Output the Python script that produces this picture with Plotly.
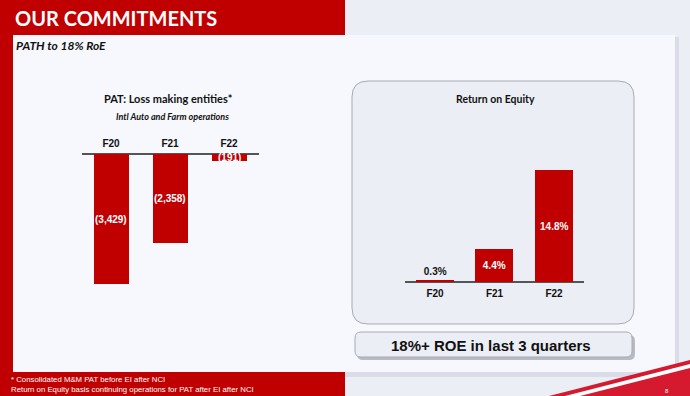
import plotly.graph_objects as go

W, H = 690, 396

# ---- data ----
pat_categories = ["F20", "F21", "F22"]
pat_values = [-3429, -2358, -191]          # Rs crore, loss making entities
roe_categories = ["F20", "F21", "F22"]
roe_values = [0.3, 4.4, 14.8]              # Return on Equity, %

RED = "#C00000"
BG = "#ECEEF6"
PANEL = "#F6F8FE"
FONT = "Liberation Sans"
TFONT = "Lato"


def px(x):
    return x / W


def py(y):
    return 1 - y / H


def rrect(x0, y0, x1, y1, r):
    # rounded rectangle path in paper units from pixel coords
    pts = [
        f"M {px(x0 + r)} {py(y0)}",
        f"L {px(x1 - r)} {py(y0)}",
        f"Q {px(x1)} {py(y0)} {px(x1)} {py(y0 + r)}",
        f"L {px(x1)} {py(y1 - r)}",
        f"Q {px(x1)} {py(y1)} {px(x1 - r)} {py(y1)}",
        f"L {px(x0 + r)} {py(y1)}",
        f"Q {px(x0)} {py(y1)} {px(x0)} {py(y1 - r)}",
        f"L {px(x0)} {py(y0 + r)}",
        f"Q {px(x0)} {py(y0)} {px(x0 + r)} {py(y0)}",
        "Z",
    ]
    return " ".join(pts)


def poly(points):
    s = "M " + " L ".join(f"{px(x)} {py(y)}" for x, y in points) + " Z"
    return s


fig = go.Figure()

# Left chart: PAT of loss making entities
fig.add_trace(go.Bar(
    x=pat_categories, y=pat_values, marker=dict(color=RED, line=dict(width=0)),
    width=0.58, xaxis="x", yaxis="y", hoverinfo="skip", showlegend=False,
))
# Right chart: RoE
roe_text = [f"{v:.1f}%" for v in roe_values]
fig.add_trace(go.Bar(
    x=roe_categories, y=roe_values, marker=dict(color=RED, line=dict(width=0)),
    width=0.64, xaxis="x2", yaxis="y2", hoverinfo="skip", showlegend=False,
    text=roe_text, textposition=["outside", "inside", "inside"],
    insidetextanchor="middle", cliponaxis=False,
    textfont=dict(family=FONT, size=10, weight="bold", color=["#111111", "white", "white"]),
    outsidetextfont=dict(family=FONT, size=10, weight="bold", color="#111111"),
))

shapes = []
# header red bar, left strip
shapes.append(dict(type="rect", xref="paper", yref="paper", x0=0, x1=px(345), y0=py(35), y1=py(0),
                   fillcolor=RED, line=dict(width=0), layer="below"))
shapes.append(dict(type="rect", xref="paper", yref="paper", x0=0, x1=px(13), y0=py(396), y1=py(0),
                   fillcolor=RED, line=dict(width=0), layer="below"))
# panel shadow + panel
shapes.append(dict(type="rect", xref="paper", yref="paper", x0=px(16), x1=px(679), y0=py(377), y1=py(37),
                   fillcolor="#DADDE8", line=dict(width=0), layer="below"))
shapes.append(dict(type="rect", xref="paper", yref="paper", x0=px(13), x1=px(675), y0=py(372), y1=py(35),
                   fillcolor=PANEL, line=dict(width=0), layer="below"))
# bottom red band
shapes.append(dict(type="rect", xref="paper", yref="paper", x0=0, x1=px(345), y0=py(396), y1=py(372),
                   fillcolor=RED, line=dict(width=0), layer="below"))
# bottom right decoration
shapes.append(dict(type="path", xref="paper", yref="paper", path=poly([(549, 396), (690, 360), (690, 396)]),
                   fillcolor="#D5192F", line=dict(width=0), layer="below"))
shapes.append(dict(type="path", xref="paper", yref="paper",
                   path=poly([(565, 396), (690, 364), (690, 368), (580, 396)]),
                   fillcolor="white", line=dict(width=0), layer="below"))
# RoE rounded box
shapes.append(dict(type="path", xref="paper", yref="paper", path=rrect(352, 81, 634, 324, 16),
                   fillcolor=BG, line=dict(color="#A9ABB3", width=1), layer="below"))
# callout box shadow and box
shapes.append(dict(type="path", xref="paper", yref="paper", path=rrect(357, 335, 635, 360, 6),
                   fillcolor="#B9BBC3", line=dict(width=0), layer="below"))
shapes.append(dict(type="path", xref="paper", yref="paper", path=rrect(355, 332, 632, 357, 6),
                   fillcolor=BG, line=dict(color="#A9ABB3", width=1), layer="below"))

annotations = []


def txt(x, y, s, size, color="#111111", family=FONT, weight="bold", italic=False, xanchor="center"):
    annotations.append(dict(
        xref="paper", yref="paper", x=px(x), y=py(y), text=s, showarrow=False,
        xanchor=xanchor, yanchor="middle",
        font=dict(family=family, size=size, color=color, weight=weight,
                  style="italic" if italic else "normal"),
    ))


txt(13, 18, "OUR COMMITMENTS", 20, color="white", family=TFONT, xanchor="left")
txt(14, 46, "PATH to 18% RoE", 12, family=TFONT, italic=True, xanchor="left")
txt(168, 98, "PAT: Loss making entities*", 11, family=TFONT)
txt(172, 117, "Intl Auto and Farm operations", 9, family=TFONT, italic=True)
txt(495, 99, "Return on Equity", 10.5, family=TFONT)
txt(491, 345, "18%+ ROE in last 3 quarters", 15, family=FONT)
txt(9, 379, "* Consolidated M&M PAT before EI after NCI", 7.8, color="white", weight="normal", xanchor="left")
txt(9, 389, "Return on Equity basis continuing operations for PAT after EI after NCI", 7.8,
    color="white", weight="normal", xanchor="left")
txt(667, 391, "8", 6, color="white", weight="normal")

# bar value labels for the PAT chart (negative values shown in brackets)
for c, v in zip(pat_categories, pat_values):
    annotations.append(dict(
        xref="x", yref="y", x=c, y=v / 2, text=f"({abs(v):,})", showarrow=False,
        font=dict(family=FONT, size=10, color="white", weight="bold"),
    ))

# axis geometry
zero_l, ppu_l = 154, 130 / 3429
zero_r, ppu_r = 282, 112 / 14.8

fig.update_layout(
    width=W, height=H, margin=dict(l=0, r=0, t=0, b=0),
    paper_bgcolor=BG, plot_bgcolor="rgba(0,0,0,0)",
    shapes=shapes, annotations=annotations, bargap=0,
    xaxis=dict(domain=[px(81.5), px(258.5)], anchor="y", side="top", type="category",
               showgrid=False, showline=False, ticks="", fixedrange=True,
               tickfont=dict(family=FONT, size=10, color="#111111", weight="bold")),
    yaxis=dict(domain=[py(290), py(150)], anchor="x",
               range=[-(290 - zero_l) / ppu_l, (zero_l - 150) / ppu_l],
               showgrid=False, showticklabels=False, zeroline=True, zerolinecolor="#555555",
               zerolinewidth=1.5, fixedrange=True),
    xaxis2=dict(domain=[px(405.25), px(583.75)], anchor="y2", type="category",
                showgrid=False, showline=False, ticks="", fixedrange=True,
                tickfont=dict(family=FONT, size=10, color="#111111", weight="bold")),
    yaxis2=dict(domain=[py(286), py(160)], anchor="x2",
                range=[-(286 - zero_r) / ppu_r, (zero_r - 160) / ppu_r],
                showgrid=False, showticklabels=False, zeroline=True, zerolinecolor="#555555",
                zerolinewidth=1.5, fixedrange=True),
)

fig.write_html("out.html", config={"displayModeBar": False},
               post_script="document.body.style.margin='0px';")
